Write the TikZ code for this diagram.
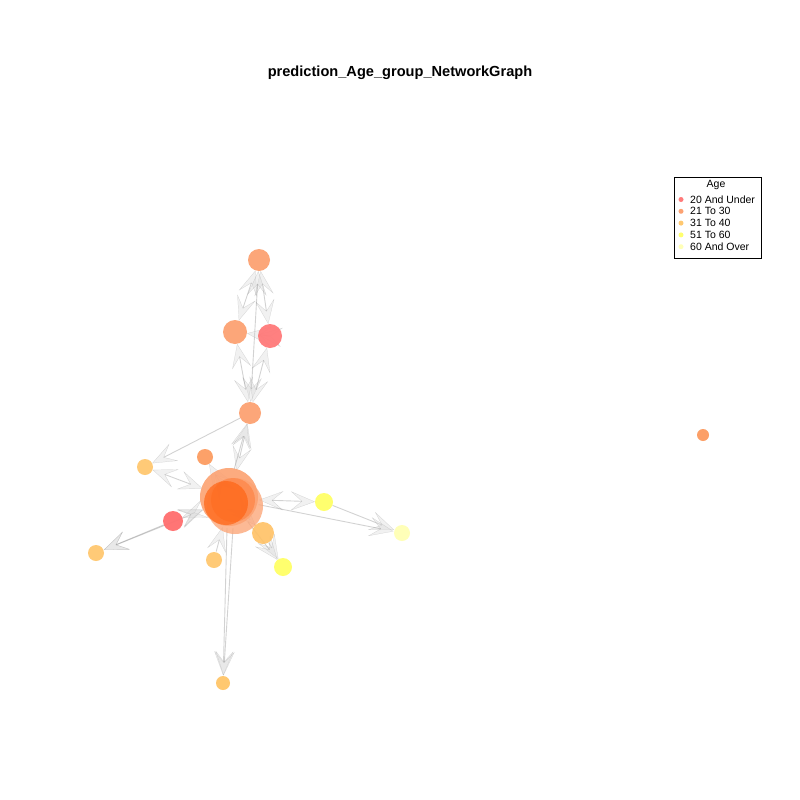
\documentclass[tikz,border=0pt]{standalone}
\usepackage{fontspec}
\setmainfont{Liberation Sans}
\usetikzlibrary{arrows.meta}
\definecolor{cA}{HTML}{FF7A7A}
\definecolor{cB}{HTML}{FCA272}
\definecolor{cC}{HTML}{FFC870}
\definecolor{cD}{HTML}{FFFF6E}
\definecolor{cE}{HTML}{FFFFB8}
\definecolor{cBig}{HTML}{FF6414}
\tikzset{
  vtx/.style={circle, inner sep=0pt, draw=none},
  tipst/.tip={Stealth[length=24pt,width=19pt,inset=11pt,fill=gray!30,line width=0.2pt]},
  edge/.style={draw=gray, opacity=0.35, line width=0.9pt, -tipst},
  bedge/.style={edge, tipst-tipst},
  legtext/.style={font=\fontsize{10.5pt}{11pt}\selectfont, anchor=west, inner sep=0pt},
  legdot/.style={circle, inner sep=0pt, minimum size=5pt}
}
\begin{document}
\begin{tikzpicture}[x=1pt,y=-1pt]
\useasboundingbox (0,0) rectangle (800,800);
\fill[white] (0,0) rectangle (800,800);
\node[font=\bfseries\fontsize{14.6pt}{16pt}\selectfont] (title) at (400,73) {prediction\_Age\_group\_NetworkGraph};
% nodes (coordinates for edges)
\node[vtx, minimum size=22pt] (A) at (259,260) {};
\node[vtx, minimum size=24pt] (B) at (235,332) {};
\node[vtx, minimum size=24pt] (C) at (270,336) {};
\node[vtx, minimum size=22pt] (D) at (250,413) {};
\node[vtx, minimum size=16pt] (E) at (205,457) {};
\node[vtx, minimum size=16pt] (F) at (145,467) {};
\node[vtx, minimum size=58pt] (G) at (230,499) {};
\node[vtx, minimum size=20pt] (H) at (173,521) {};
\node[vtx, minimum size=17pt] (I) at (96,553) {};
\node[vtx, minimum size=17pt] (J) at (214,560) {};
\node[vtx, minimum size=22pt] (K) at (263,533) {};
\node[vtx, minimum size=18pt] (L) at (283,567) {};
\node[vtx, minimum size=18pt] (M) at (324,502) {};
\node[vtx, minimum size=17pt] (N) at (402,533) {};
\node[vtx, minimum size=15pt] (O) at (223,683) {};
\node[vtx, minimum size=13pt] (P) at (703,435) {};
% edges
\draw[bedge] (A) -- (B);
\draw[bedge] (A) -- (C);
\draw[bedge] (A) -- (D);
\draw[bedge] (B) -- (D);
\draw[bedge] (C) -- (D);
\draw[bedge] (C) -- (B);
\draw[edge] (D) -- (F);
\draw[bedge] (G) -- (D);
\draw[edge] ([xshift=4pt]G.north) -- (D);
\draw[bedge] (G) -- (E);
\draw[bedge] (G) -- (F);
\draw[bedge] (G) -- (I);
\draw[edge] (H) -- (I);
\draw[bedge] (H) -- (G);
\draw[bedge] (G) -- (M);
\draw[edge] (M) -- (N);
\draw[edge] (G) -- (N);
\draw[bedge] (G) -- (K);
\draw[edge] (K) -- (L);
\draw[edge] (G) -- (L);
\draw[edge] (J) -- (G);
\draw[edge] ([xshift=-3pt]G.south) -- (O);
\draw[edge] ([xshift=3pt]G.south) -- (O);
% visible vertices
\fill[cB, opacity=0.95] (A) circle (11);
\fill[cB, opacity=0.95] (B) circle (12);
\fill[cA, opacity=0.95] (C) circle (12);
\fill[cB, opacity=0.95] (D) circle (11);
\fill[cB!85!orange, opacity=0.95] (E) circle (8);
\fill[cC, opacity=0.95] (F) circle (8);
\fill[cB, opacity=0.9] (229,497) circle (29);
\fill[cB, opacity=0.75] (235,506) circle (28);
\fill[cBig, opacity=0.7] (226,503) circle (22);
\fill[cBig, opacity=0.35] (233,500) circle (22);
\fill[cA!90!red, opacity=0.95] (H) circle (10);
\fill[cC, opacity=0.95] (I) circle (8);
\fill[cC, opacity=0.95] (J) circle (8);
\fill[cC!90!orange, opacity=0.9] (K) circle (11);
\fill[cD] (L) circle (9);
\fill[cD] (M) circle (9);
\fill[cE] (N) circle (8);
\fill[cC] (O) circle (7);
\fill[cB!90!orange] (P) circle (6);
% legend
\draw[black, line width=0.6pt] (674,177) rectangle (761,258);
\node[font=\fontsize{10.5pt}{11pt}\selectfont, inner sep=0pt] (lt) at (716,184.5) {Age};
\node[legdot, fill=cA] (d1) at (681,199.5) {};
\node[legdot, fill=cB] (d2) at (681,211.3) {};
\node[legdot, fill=cC] (d3) at (681,223.1) {};
\node[legdot, fill=cD] (d4) at (681,234.9) {};
\node[legdot, fill=cE] (d5) at (681,246.7) {};
\node[legtext] (l1) at (690,199.5) {20 And Under};
\node[legtext] (l2) at (690,211.3) {21 To 30};
\node[legtext] (l3) at (690,223.1) {31 To 40};
\node[legtext] (l4) at (690,234.9) {51 To 60};
\node[legtext] (l5) at (690,246.7) {60 And Over};
\end{tikzpicture}
\end{document}
